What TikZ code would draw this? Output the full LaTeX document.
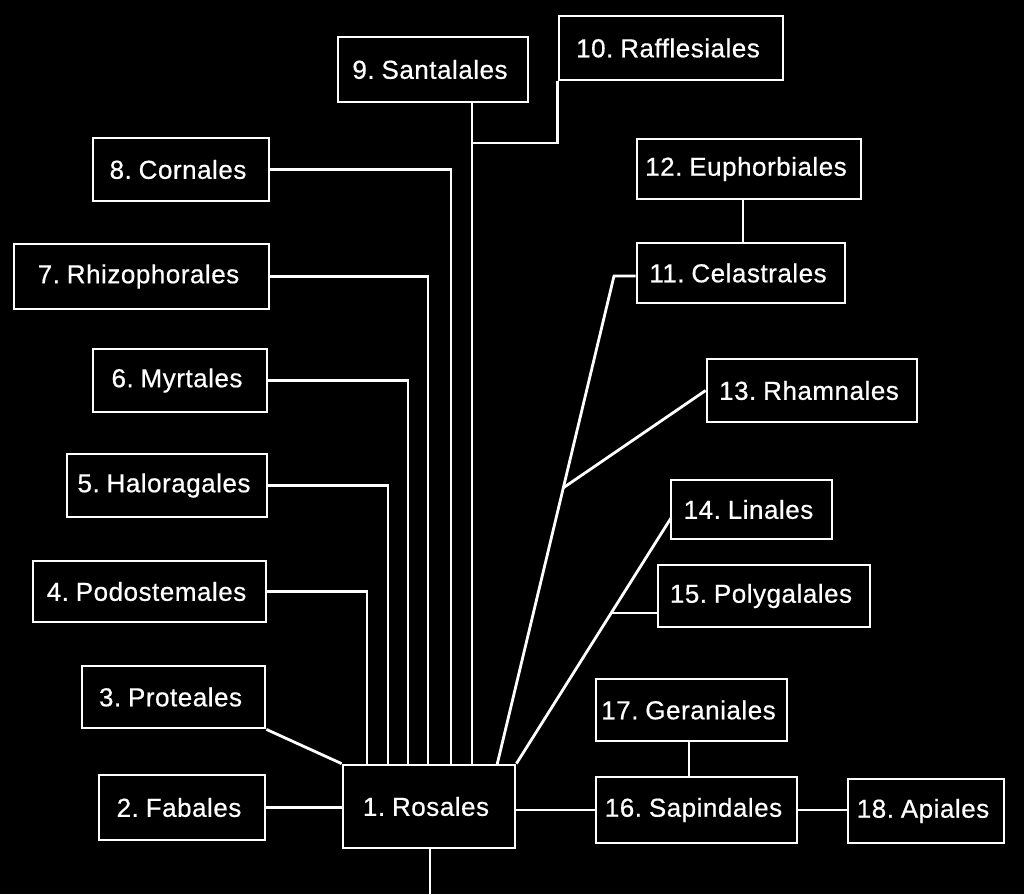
\documentclass[tikz,border=0pt]{standalone}
\usepackage{fontspec}
\setmainfont[LetterSpace=2,WordSpace=0.55,FakeBold=0.6]{Liberation Sans}
\usetikzlibrary{calc}
\begin{document}
\begin{tikzpicture}[x=1pt,y=-1pt,
  box/.style={draw=white,fill=black,text=white,line width=2.8pt,inner sep=0pt,
    font=\fontsize{26}{30}\selectfont,rectangle},
  link/.style={draw=white,line width=2.8pt}]
\fill[black] (0,0) rectangle (1024,894);
\useasboundingbox (0,0) rectangle (1024,894);
% boxes
\node[box,minimum width=172pt,minimum height=83pt] (n1) at (429,806.5) {1. Rosales\hspace*{6pt}};
\node[box,minimum width=166pt,minimum height=65pt] (n2) at (182,807.5) {2. Fabales\hspace*{6pt}};
\node[box,minimum width=183pt,minimum height=62pt] (n3) at (173.5,697) {3. Proteales\hspace*{6pt}};
\node[box,minimum width=233pt,minimum height=61pt] (n4) at (149.5,591.5) {4. Podostemales\hspace*{6pt}};
\node[box,minimum width=200pt,minimum height=63pt] (n5) at (167,485.5) {5. Haloragales\hspace*{6pt}};
\node[box,minimum width=174pt,minimum height=63pt] (n6) at (180,380.5) {6. Myrtales\hspace*{6pt}};
\node[box,minimum width=255pt,minimum height=65pt] (n7) at (141.5,276.5) {7. Rhizophorales\hspace*{6pt}};
\node[box,minimum width=176pt,minimum height=63pt] (n8) at (181,169.5) {8. Cornales\hspace*{6pt}};
\node[box,minimum width=190pt,minimum height=65pt] (n9) at (433,69.5) {9. Santalales\hspace*{6pt}};
\node[box,minimum width=224pt,minimum height=64pt] (n10) at (671,48) {10. Rafflesiales\hspace*{6pt}};
\node[box,minimum width=208pt,minimum height=60pt] (n11) at (741,273) {11. Celastrales\hspace*{6pt}};
\node[box,minimum width=224pt,minimum height=60pt] (n12) at (749,169) {12. Euphorbiales\hspace*{6pt}};
\node[box,minimum width=210pt,minimum height=63pt] (n13) at (812,390.5) {13. Rhamnales\hspace*{6pt}};
\node[box,minimum width=161pt,minimum height=59pt] (n14) at (751.5,509.5) {14. Linales\hspace*{6pt}};
\node[box,minimum width=212pt,minimum height=62pt] (n15) at (764,596) {15. Polygalales\hspace*{6pt}};
\node[box,minimum width=201pt,minimum height=66pt] (n16) at (696.5,810) {16. Sapindales\hspace*{6pt}};
\node[box,minimum width=191pt,minimum height=62pt] (n17) at (691.5,710) {17. Geraniales\hspace*{6pt}};
\node[box,minimum width=156pt,minimum height=64pt] (n18) at (926,811) {18. Apiales\hspace*{6pt}};
% coordinates on Rosales top edge and junctions
\coordinate (t4) at (367,765);
\coordinate (t5) at (388,765);
\coordinate (t6) at (408,765);
\coordinate (t7) at (428,765);
\coordinate (t8) at (451,765);
\coordinate (t9) at (472,765);
\coordinate (j10) at (472,143);
\coordinate (b11) at (614,276);
\coordinate (t11) at (497,765);
\coordinate (j13) at (563,488);
\coordinate (a14) at (671,518);
\coordinate (j15) at (611,613);
\coordinate (e12) at (743,0);
\coordinate (e17) at (689,0);
\coordinate (bot) at (430,894);
% connectors
\draw[link] (n2.east) -- (n2.east -| n1.west);
\draw[link] (n3.south east) -- (n1.north west);
\draw[link] (n4.east) -| (t4);
\draw[link] (n5.east) -| (t5);
\draw[link] (n6.east) -| (t6);
\draw[link] (n7.east) -| (t7);
\draw[link] (n8.east) -| (t8);
\draw[link] (t9 |- n9.south) -- (t9);
\draw[link] (n10.south west) |- (j10);
\draw[link] (n11.west |- b11) -- (b11) -- (t11);
\draw[link] (e12 |- n12.south) -- (e12 |- n11.north);
\draw[link] (n13.west) -- (j13);
\draw[link] (a14) -- (n1.north east);
\draw[link] (n15.west |- j15) -- (j15);
\draw[link] (n16.west -| n1.east) -- (n16.west);
\draw[link] (e17 |- n17.south) -- (e17 |- n16.north);
\draw[link] (n16.east) -- (n16.east -| n18.west);
\draw[link] (n1.south -| bot) -- (bot);
\end{tikzpicture}
\end{document}
